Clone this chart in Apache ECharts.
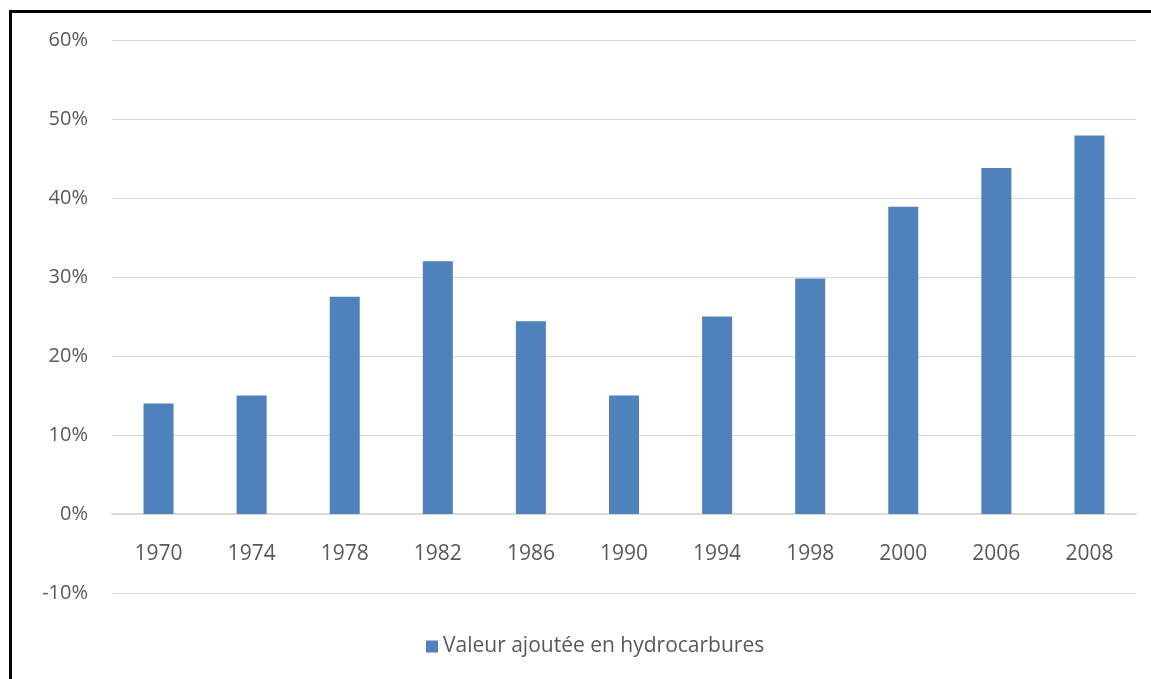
<!DOCTYPE html>
<html>
<head>
<meta charset="utf-8">
<script src="https://cdn.jsdelivr.net/npm/echarts@6/dist/echarts.min.js"></script>
<style>
  html, body { margin: 0; padding: 0; background: #fff; }
  #chart { width: 1151px; height: 679px; }
</style>
</head>
<body>
<div id="chart"></div>
<script>
// Years on the category axis
const years = ['1970', '1974', '1978', '1982', '1986', '1990', '1994', '1998', '2000', '2006', '2008'];
// Share of value added from hydrocarbons, in percent
const valeurAjoutee = [14, 15, 27.5, 32, 24.4, 15, 25, 29.8, 38.9, 43.8, 47.9];
const seriesName = 'Valeur ajoutée en hydrocarbures';

const chart = echarts.init(document.getElementById('chart'));
const textColor = '#595959';
const fontFamily = '"Open Sans", "Liberation Sans", sans-serif';

// The category axis sits on the 0% line: one tick step (of seven) above the bottom
const gridTop = 40, gridBottom = 86, chartHeight = 679;
const zeroOffset = -(chartHeight - gridTop - gridBottom) / 7;

chart.setOption({
  animation: false,
  backgroundColor: '#ffffff',
  graphic: [{
    type: 'rect',
    shape: { x: 10.5, y: 11.5, width: 1200, height: 720 },
    style: { fill: 'none', stroke: '#000000', lineWidth: 3 },
    silent: true
  }],
  grid: { left: 112, right: 15, top: gridTop, bottom: gridBottom, containLabel: false },
  legend: {
    left: 421,
    top: 631,
    itemWidth: 12,
    itemHeight: 12,
    itemGap: 8,
    icon: 'rect',
    textStyle: { color: textColor, fontSize: 21, fontFamily: fontFamily },
    data: [seriesName]
  },
  xAxis: {
    type: 'category',
    data: years,
    offset: zeroOffset,
    axisLine: { show: true, onZero: false, lineStyle: { color: '#d9d9d9', width: 2 } },
    axisTick: { show: false },
    axisLabel: { color: textColor, fontSize: 21, fontFamily: fontFamily, margin: 30 },
    splitLine: { show: false }
  },
  yAxis: {
    type: 'value',
    min: -10,
    max: 60,
    interval: 10,
    axisLine: { show: false },
    axisTick: { show: false },
    axisLabel: {
      color: textColor, fontSize: 20, fontFamily: fontFamily, margin: 24,
      formatter: v => v + '%'
    },
    splitLine: { lineStyle: { color: '#d9d9d9', width: 1 } }
  },
  series: [{
    name: seriesName,
    type: 'bar',
    data: valeurAjoutee,
    barWidth: 30,
    itemStyle: { color: '#4f81bd' }
  }]
});
</script>
</body>
</html>
